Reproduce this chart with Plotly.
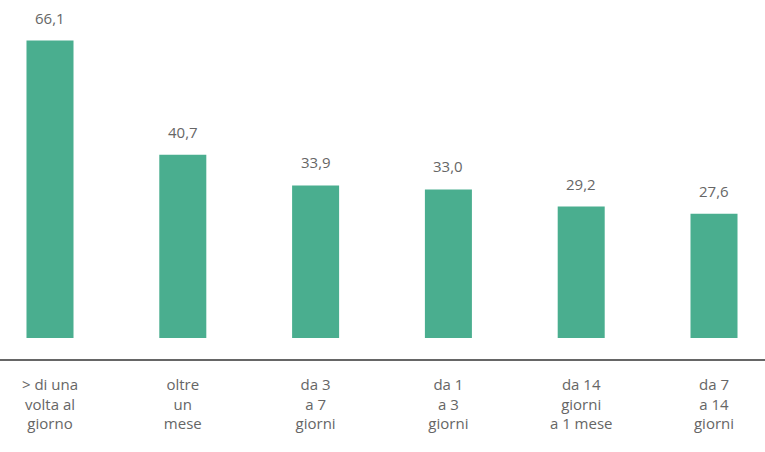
import plotly.graph_objects as go

# categorie e valori
categorie = ["> di una volta al giorno", "oltre un mese", "da 3 a 7 giorni",
             "da 1 a 3 giorni", "da 14 giorni a 1 mese", "da 7 a 14 giorni"]
etichette = ["> di una<br>volta al<br>giorno", "oltre<br>un<br>mese", "da 3<br>a 7<br>giorni",
             "da 1<br>a 3<br>giorni", "da 14<br>giorni<br>a 1 mese", "da 7<br>a 14<br>giorni"]
valori = [66.1, 40.7, 33.9, 33.0, 29.2, 27.6]

verde = '#4aae8f'
grigio = '#666666'
font_fam = 'Open Sans, Lato, sans-serif'

fig = go.Figure()

fig.add_trace(go.Bar(
    x=categorie, y=valori,
    marker=dict(color=verde, line=dict(width=0)),
    width=0.354,
    hoverinfo='skip'
))

# etichette dei valori sopra le barre (virgola decimale)
for c, v in zip(categorie, valori):
    fig.add_annotation(
        x=c, y=v, text=f"{v:.1f}".replace('.', ','),
        showarrow=False, yanchor='bottom', yshift=11,
        font=dict(size=15, color=grigio, family=font_fam)
    )

fig.update_layout(
    width=765, height=452,
    margin=dict(l=0, r=0, t=0, b=93),
    plot_bgcolor='white', paper_bgcolor='white',
    showlegend=False,
    font=dict(family=font_fam, size=15, color=grigio),
    xaxis=dict(
        type='category',
        tickvals=categorie, ticktext=etichette,
        range=[-0.3765, 5.384],
        showline=True, linecolor=grigio, linewidth=2,
        ticks='', showgrid=False, zeroline=False,
        ticklabelstandoff=11,
        tickfont=dict(size=15, color=grigio, family=font_fam)
    ),
    yaxis=dict(
        range=[-4.67, 75.11],
        visible=False, showgrid=False, zeroline=False
    )
)

# niente margine della pagina, così la figura occupa tutta la finestra
fig.write_html("out.html", config={'displayModeBar': False},
               post_script="document.body.style.margin='0';")
